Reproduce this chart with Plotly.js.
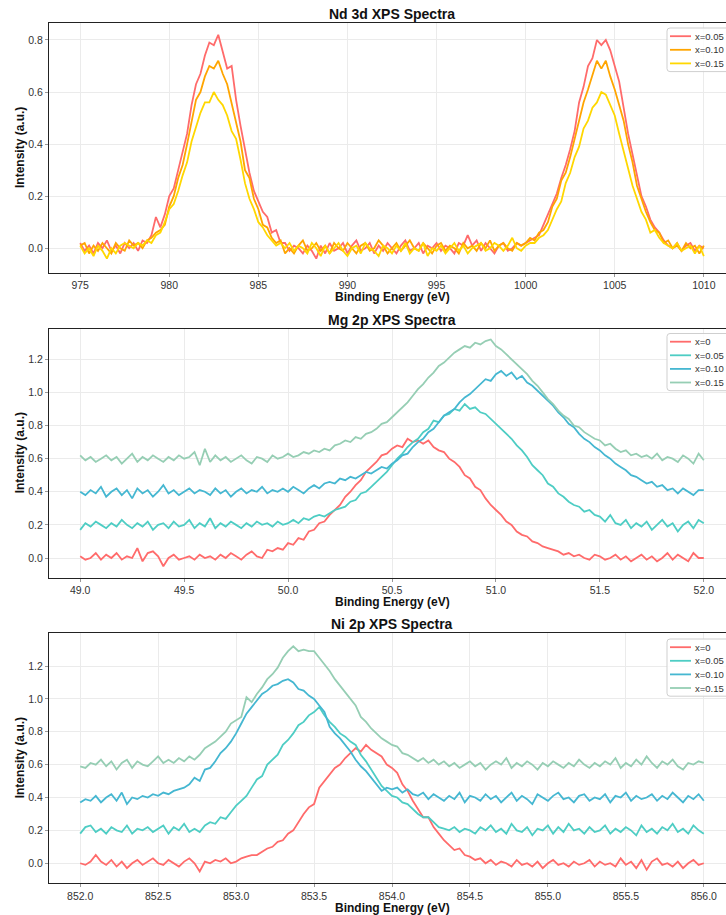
<!DOCTYPE html>
<html><head><meta charset="utf-8">
<script src="https://cdn.plot.ly/plotly-3.0.1.min.js"></script>
<style>html,body{margin:0;padding:0;overflow:hidden;background:#fff;width:726px;height:915px}#chart{width:745px;height:915px}</style>
</head><body><div id="chart"></div>
<script>
// ---------- Nd 3d (binding energy 975 .. 1010 eV) ----------
const ndRange = [975, 1010];
const ndLabels = ['x=0.05', 'x=0.10', 'x=0.15'];
const ndColors = ['#FF6B6B', '#FFA500', '#FFD700'];
const ndX005 = [
0.02,-0.01,0.01,-0.02,0.02,0.00,0.03,-0.01,0.01,-0.02,
0.02,0.00,0.02,-0.01,0.03,0.02,0.05,0.12,0.08,0.13,
0.20,0.23,0.30,0.37,0.44,0.55,0.63,0.67,0.74,0.79,
0.78,0.82,0.76,0.69,0.70,0.57,0.47,0.38,0.29,0.22,
0.18,0.14,0.12,0.06,0.07,0.02,0.02,-0.01,0.01,0.00,
-0.02,0.01,-0.01,-0.04,0.01,-0.02,0.02,-0.01,0.00,0.02,
-0.02,0.01,0.03,-0.01,0.00,0.02,-0.02,0.01,-0.01,0.02,
0.00,-0.02,0.01,0.03,-0.01,0.00,0.02,-0.02,0.01,0.00,
0.02,-0.01,0.01,0.00,-0.02,0.02,0.01,0.05,0.01,0.03,
-0.01,0.02,0.00,-0.02,0.01,0.02,-0.01,0.00,0.02,0.01,
0.02,0.03,0.04,0.05,0.09,0.13,0.17,0.21,0.27,0.32,
0.38,0.45,0.56,0.62,0.70,0.73,0.80,0.78,0.80,0.76,
0.70,0.64,0.54,0.44,0.36,0.28,0.20,0.16,0.11,0.08,
0.06,0.03,0.01,0.00,0.02,-0.01,0.01,0.02,-0.01,0.01,
0.00];
const ndX010 = [
0.01,0.02,-0.02,0.01,-0.01,0.02,0.00,-0.02,0.02,0.00,
-0.01,0.03,0.01,0.02,0.00,0.03,0.04,0.06,0.07,0.09,
0.16,0.20,0.27,0.32,0.40,0.48,0.57,0.60,0.66,0.70,
0.69,0.72,0.67,0.63,0.56,0.49,0.41,0.30,0.27,0.19,
0.15,0.09,0.08,0.04,0.02,0.03,-0.02,0.00,-0.02,0.01,
0.03,-0.01,0.00,0.02,-0.01,0.01,-0.02,0.02,0.00,-0.01,
0.02,0.00,-0.02,0.01,0.02,-0.01,0.00,0.03,0.01,-0.02,
0.00,0.02,-0.01,0.01,0.03,0.00,-0.01,0.02,0.00,-0.02,
0.01,0.02,-0.01,0.01,0.00,-0.02,0.02,0.00,0.01,-0.01,
0.02,0.00,0.03,-0.01,0.01,0.02,0.00,-0.01,0.02,0.01,
0.02,0.04,0.03,0.06,0.07,0.10,0.16,0.19,0.26,0.29,
0.35,0.42,0.48,0.56,0.61,0.67,0.72,0.69,0.72,0.66,
0.61,0.55,0.49,0.40,0.33,0.24,0.19,0.14,0.10,0.07,
0.06,0.02,0.03,0.00,0.01,-0.01,0.02,0.00,0.01,-0.02,
0.01];
const ndX015 = [
0.01,-0.02,0.00,-0.03,0.01,-0.01,-0.04,0.00,-0.02,0.01,
0.02,0.01,0.00,0.02,0.01,0.03,0.02,0.05,0.06,0.10,
0.15,0.17,0.22,0.28,0.33,0.41,0.47,0.52,0.56,0.56,
0.60,0.57,0.55,0.51,0.45,0.42,0.34,0.25,0.19,0.15,
0.10,0.08,0.05,0.03,0.01,0.02,0.00,0.02,-0.01,0.01,
0.00,-0.02,0.02,0.00,-0.03,0.01,-0.02,0.00,0.02,-0.01,
-0.03,0.00,0.01,-0.02,0.02,0.00,-0.01,-0.03,0.01,0.00,
-0.02,0.01,-0.01,0.02,-0.02,0.00,-0.01,0.02,-0.03,0.00,
-0.01,0.01,-0.02,0.00,0.02,-0.01,0.01,-0.02,0.00,0.01,
0.02,-0.01,0.00,0.02,0.01,-0.01,0.01,0.04,0.00,-0.01,
0.01,0.02,0.02,0.04,0.05,0.07,0.11,0.15,0.18,0.25,
0.29,0.35,0.39,0.46,0.49,0.54,0.56,0.60,0.59,0.55,
0.51,0.44,0.37,0.31,0.24,0.19,0.14,0.11,0.06,0.07,
0.04,0.02,0.01,0.00,0.02,-0.01,0.00,0.01,-0.02,0.01,
-0.03];

// ---------- Mg 2p (binding energy 49 .. 52 eV) ----------
const mgRange = [49, 52];
const dopLabels = ['x=0', 'x=0.05', 'x=0.10', 'x=0.15'];
const dopColors = ['#FF6B6B', '#4ECDC4', '#45B7D1', '#96CEB4'];
const mgX0 = [
0.01,-0.01,0.00,0.03,-0.01,0.02,0.00,0.03,-0.01,0.01,
0.00,0.06,-0.02,0.03,0.04,0.01,-0.05,0.00,0.02,-0.01,
0.00,0.01,-0.01,0.02,0.00,0.01,-0.01,0.02,0.00,0.03,
0.01,-0.01,0.02,0.04,0.01,0.00,0.05,0.04,0.06,0.05,
0.09,0.08,0.12,0.11,0.16,0.17,0.21,0.22,0.26,0.29,
0.32,0.37,0.40,0.44,0.47,0.52,0.55,0.58,0.62,0.63,
0.66,0.68,0.67,0.72,0.70,0.71,0.69,0.71,0.67,0.65,
0.64,0.60,0.58,0.55,0.50,0.48,0.43,0.41,0.36,0.32,
0.29,0.26,0.22,0.20,0.16,0.14,0.13,0.10,0.09,0.07,
0.06,0.05,0.04,0.02,0.03,0.01,0.02,0.00,-0.01,0.02,
0.01,-0.01,0.00,0.02,-0.01,0.01,-0.02,0.00,0.02,-0.01,
0.01,-0.02,0.00,0.03,-0.01,0.02,0.00,-0.02,0.03,0.00,
0.00];
const mgX005 = [
0.17,0.21,0.19,0.22,0.20,0.18,0.21,0.19,0.23,0.20,
0.18,0.21,0.19,0.22,0.17,0.20,0.21,0.18,0.22,0.19,
0.20,0.23,0.18,0.21,0.19,0.24,0.18,0.21,0.19,0.22,
0.20,0.18,0.21,0.19,0.22,0.20,0.21,0.19,0.22,0.20,
0.21,0.23,0.21,0.24,0.23,0.25,0.26,0.25,0.27,0.29,
0.30,0.31,0.34,0.35,0.39,0.40,0.43,0.46,0.49,0.52,
0.56,0.60,0.63,0.67,0.70,0.72,0.76,0.78,0.83,0.82,
0.86,0.87,0.90,0.89,0.93,0.90,0.91,0.88,0.87,0.84,
0.81,0.78,0.75,0.72,0.68,0.65,0.61,0.56,0.53,0.50,
0.45,0.43,0.39,0.37,0.34,0.32,0.31,0.28,0.29,0.26,
0.25,0.22,0.26,0.21,0.20,0.23,0.18,0.21,0.19,0.22,
0.17,0.20,0.23,0.19,0.21,0.16,0.20,0.22,0.18,0.23,
0.21];
const mgX010 = [
0.40,0.38,0.41,0.39,0.43,0.37,0.40,0.42,0.38,0.41,
0.36,0.42,0.39,0.41,0.37,0.40,0.44,0.39,0.41,0.38,
0.40,0.42,0.39,0.41,0.40,0.38,0.42,0.39,0.41,0.37,
0.40,0.42,0.39,0.41,0.40,0.43,0.39,0.41,0.40,0.42,
0.40,0.43,0.41,0.39,0.42,0.44,0.42,0.45,0.46,0.45,
0.48,0.47,0.49,0.48,0.50,0.52,0.51,0.53,0.55,0.54,
0.57,0.59,0.62,0.63,0.67,0.70,0.72,0.76,0.78,0.82,
0.86,0.88,0.90,0.94,0.97,0.99,1.02,1.05,1.08,1.07,
1.11,1.13,1.10,1.12,1.08,1.10,1.06,1.04,1.01,0.98,
0.95,0.92,0.88,0.85,0.81,0.79,0.75,0.72,0.70,0.67,
0.65,0.62,0.60,0.57,0.55,0.53,0.50,0.49,0.47,0.45,
0.46,0.43,0.44,0.41,0.42,0.39,0.42,0.40,0.38,0.41,
0.41];
const mgX015 = [
0.62,0.59,0.61,0.58,0.60,0.62,0.59,0.61,0.57,0.60,
0.63,0.58,0.61,0.59,0.62,0.60,0.58,0.61,0.59,0.62,
0.60,0.61,0.64,0.56,0.66,0.58,0.62,0.59,0.61,0.58,
0.60,0.62,0.59,0.57,0.61,0.60,0.58,0.62,0.60,0.61,
0.63,0.61,0.62,0.64,0.63,0.65,0.64,0.66,0.65,0.68,
0.69,0.71,0.70,0.73,0.72,0.75,0.76,0.78,0.81,0.82,
0.85,0.88,0.91,0.94,0.98,1.02,1.05,1.09,1.12,1.16,
1.18,1.21,1.24,1.26,1.28,1.27,1.30,1.29,1.31,1.32,
1.28,1.26,1.23,1.20,1.17,1.14,1.11,1.07,1.04,1.00,
0.96,0.93,0.89,0.86,0.84,0.80,0.79,0.76,0.74,0.72,
0.71,0.68,0.69,0.66,0.64,0.65,0.62,0.63,0.61,0.62,
0.60,0.63,0.59,0.61,0.60,0.58,0.62,0.60,0.57,0.63,
0.59];

// ---------- Ni 2p (binding energy 852 .. 856 eV) ----------
const niRange = [852, 856];
const niX0 = [
0.00,-0.01,0.01,0.05,0.01,-0.01,0.02,-0.02,0.01,-0.03,
0.00,0.02,-0.01,0.01,0.03,0.00,-0.01,0.02,0.00,-0.02,
0.01,0.03,0.00,-0.05,0.01,0.00,0.02,0.01,0.03,0.00,
0.01,0.03,0.04,0.05,0.05,0.07,0.09,0.10,0.13,0.14,
0.18,0.20,0.25,0.30,0.34,0.36,0.46,0.50,0.54,0.58,
0.60,0.64,0.67,0.70,0.68,0.72,0.69,0.67,0.65,0.60,
0.58,0.55,0.48,0.44,0.38,0.33,0.28,0.28,0.22,0.18,
0.14,0.11,0.08,0.09,0.05,0.04,0.02,0.03,0.00,0.02,
-0.01,0.01,0.00,-0.02,0.02,-0.01,0.00,-0.02,0.01,-0.03,
0.00,0.02,-0.01,0.00,-0.02,0.01,-0.01,0.00,0.02,-0.02,
0.01,-0.01,0.00,-0.02,0.03,-0.01,0.01,-0.03,0.02,-0.04,
0.01,0.03,-0.01,0.00,-0.02,0.01,-0.03,0.00,0.02,-0.01,
0.00];
const niX005 = [
0.18,0.22,0.23,0.19,0.21,0.18,0.22,0.20,0.19,0.23,
0.18,0.21,0.20,0.22,0.19,0.21,0.23,0.18,0.22,0.20,
0.24,0.19,0.21,0.19,0.23,0.25,0.24,0.28,0.27,0.31,
0.35,0.38,0.41,0.46,0.51,0.53,0.60,0.63,0.66,0.72,
0.75,0.79,0.84,0.86,0.90,0.92,0.95,0.90,0.86,0.83,
0.79,0.77,0.74,0.72,0.66,0.62,0.57,0.52,0.47,0.44,
0.41,0.40,0.37,0.36,0.33,0.30,0.28,0.28,0.25,0.22,
0.21,0.20,0.22,0.19,0.21,0.20,0.18,0.22,0.20,0.23,
0.19,0.21,0.18,0.24,0.20,0.19,0.22,0.17,0.21,0.20,
0.23,0.18,0.22,0.19,0.24,0.20,0.21,0.18,0.22,0.19,
0.20,0.23,0.18,0.21,0.19,0.22,0.20,0.17,0.23,0.19,
0.21,0.18,0.22,0.20,0.24,0.19,0.21,0.18,0.23,0.20,
0.18];
const niX010 = [
0.37,0.39,0.38,0.41,0.37,0.40,0.42,0.38,0.43,0.36,
0.40,0.39,0.41,0.40,0.42,0.41,0.43,0.42,0.44,0.45,
0.46,0.48,0.52,0.50,0.57,0.58,0.62,0.67,0.70,0.74,
0.79,0.85,0.91,0.95,0.99,1.03,1.05,1.08,1.09,1.11,
1.12,1.10,1.06,1.05,1.02,1.00,0.96,0.92,0.83,0.79,
0.76,0.72,0.68,0.63,0.59,0.56,0.52,0.48,0.44,0.46,
0.45,0.46,0.43,0.45,0.42,0.41,0.43,0.39,0.42,0.40,
0.38,0.41,0.39,0.43,0.37,0.41,0.40,0.38,0.42,0.39,
0.41,0.37,0.40,0.43,0.38,0.41,0.39,0.36,0.42,0.40,
0.38,0.41,0.43,0.39,0.40,0.37,0.41,0.42,0.38,0.40,
0.39,0.42,0.37,0.41,0.40,0.43,0.38,0.41,0.39,0.40,
0.42,0.38,0.41,0.39,0.43,0.40,0.37,0.41,0.39,0.42,
0.38];
const niX015 = [
0.59,0.58,0.61,0.60,0.63,0.59,0.62,0.57,0.61,0.63,
0.58,0.62,0.60,0.59,0.62,0.65,0.61,0.63,0.61,0.64,
0.62,0.65,0.63,0.66,0.70,0.72,0.74,0.77,0.80,0.85,
0.87,0.89,1.01,0.98,1.03,1.07,1.12,1.15,1.19,1.25,
1.29,1.32,1.29,1.30,1.29,1.29,1.25,1.21,1.17,1.12,
1.08,1.04,1.00,0.96,0.89,0.86,0.82,0.79,0.76,0.74,
0.72,0.71,0.67,0.66,0.64,0.62,0.64,0.61,0.63,0.60,
0.62,0.59,0.61,0.58,0.60,0.62,0.59,0.61,0.57,0.60,
0.62,0.60,0.64,0.58,0.61,0.59,0.62,0.60,0.57,0.61,
0.59,0.62,0.60,0.58,0.61,0.59,0.63,0.60,0.58,0.61,
0.59,0.62,0.60,0.64,0.58,0.61,0.59,0.63,0.60,0.65,
0.61,0.58,0.62,0.60,0.63,0.59,0.57,0.61,0.60,0.62,
0.61];

// evenly spaced energy grid for a series (like numpy.linspace)
function energyGrid(range, n) {
  const out = [];
  for (let i = 0; i < n; i++) out.push(range[0] + (range[1] - range[0]) * i / (n - 1));
  return out;
}

const FONT = 'Liberation Sans, Arial, Helvetica, sans-serif';
const LW = 1.8;
const traces = [];
function addSeries(list, labels, colors, range, xa, ya) {
  list.forEach((vals, k) => {
    traces.push({
      type: 'scatter', mode: 'lines',
      x: energyGrid(range, vals.length), y: vals,
      name: labels[k], line: {color: colors[k], width: LW},
      xaxis: xa, yaxis: ya, showlegend: false
    });
  });
}
addSeries([ndX005, ndX010, ndX015], ndLabels, ndColors, ndRange, 'x', 'y');
addSeries([mgX0, mgX005, mgX010, mgX015], dopLabels, dopColors, mgRange, 'x2', 'y2');
addSeries([niX0, niX005, niX010, niX015], dopLabels, dopColors, niRange, 'x3', 'y3');

const W = 745, H = 915, ML = 49, MR = 10;
const PW = W - ML - MR;
const px = v => (v - ML) / PW;
const py = v => 1 - v / H;

const axBase = {
  showline: true, linecolor: '#222', linewidth: 1.3, mirror: true,
  showgrid: true, gridcolor: '#ebebeb', gridwidth: 1, zeroline: false,
  ticks: 'outside', ticklen: 3, tickcolor: '#999', tickwidth: 1,
  tickfont: {family: FONT, size: 10.5, color: '#333'}
};

const layout = {
  width: W, height: H,
  margin: {l: ML, r: MR, t: 0, b: 0},
  paper_bgcolor: '#fff', plot_bgcolor: '#fff',
  font: {family: FONT},
  showlegend: false,
  xaxis: Object.assign({}, axBase, {domain: [0, 1], anchor: 'y', range: [973.25, 1011.75], tick0: 975, dtick: 5}),
  yaxis: Object.assign({}, axBase, {domain: [py(272.7), py(23.3)], anchor: 'x', range: [-0.094, 0.864], tick0: 0, dtick: 0.2, tickformat: '.1f'}),
  xaxis2: Object.assign({}, axBase, {domain: [0, 1], anchor: 'y2', range: [48.85, 52.15], tick0: 49, dtick: 0.5, tickformat: '.1f'}),
  yaxis2: Object.assign({}, axBase, {domain: [py(577.7), py(329)], anchor: 'x2', range: [-0.119, 1.383], tick0: 0, dtick: 0.2, tickformat: '.1f'}),
  xaxis3: Object.assign({}, axBase, {domain: [0, 1], anchor: 'y3', range: [851.8, 856.2], tick0: 852, dtick: 0.5, tickformat: '.1f'}),
  yaxis3: Object.assign({}, axBase, {domain: [py(883.3), py(633.3)], anchor: 'x3', range: [-0.122, 1.399], tick0: 0, dtick: 0.2, tickformat: '.1f'}),
  annotations: [],
  shapes: []
};

const titleFont = {family: FONT, size: 14, color: '#111'};
const labFont = {family: FONT, size: 12, color: '#111'};
const legFont = {family: FONT, size: 9.5, color: '#333'};
const panels = [
  {title: 'Nd 3d XPS Spectra', top: 23.3, bottom: 272.7, labels: ndLabels, colors: ndColors, legTop: 28},
  {title: 'Mg 2p XPS Spectra', top: 329, bottom: 577.7, labels: dopLabels, colors: dopColors, legTop: 333.5},
  {title: 'Ni 2p XPS Spectra', top: 633.3, bottom: 883.3, labels: dopLabels, colors: dopColors, legTop: 639}
];

// legend box with rounded left corners, in pixel terms converted to paper
function legendBox(left, top, right, bottom, r) {
  const X = v => px(v), Y = v => py(v);
  return 'M' + X(left + r) + ',' + Y(top) + ' L' + X(right) + ',' + Y(top) +
    ' L' + X(right) + ',' + Y(bottom) + ' L' + X(left + r) + ',' + Y(bottom) +
    ' Q' + X(left) + ',' + Y(bottom) + ' ' + X(left) + ',' + Y(bottom - r) +
    ' L' + X(left) + ',' + Y(top + r) +
    ' Q' + X(left) + ',' + Y(top) + ' ' + X(left + r) + ',' + Y(top) + ' Z';
}

panels.forEach(p => {
  layout.annotations.push({text: '<b>' + p.title + '</b>', xref: 'paper', yref: 'paper', x: 0.5, y: py(p.top - 9.5), xanchor: 'center', yanchor: 'middle', showarrow: false, font: titleFont});
  layout.annotations.push({text: '<b>Binding Energy (eV)</b>', xref: 'paper', yref: 'paper', x: 0.5, y: py(p.bottom + 24.5), xanchor: 'center', yanchor: 'middle', showarrow: false, font: labFont});
  layout.annotations.push({text: '<b>Intensity (a.u.)</b>', xref: 'paper', yref: 'paper', x: px(20), y: py((p.top + p.bottom) / 2), xanchor: 'center', yanchor: 'middle', textangle: -90, showarrow: false, font: labFont});
  // legend
  const rowGap = 13.6, first = p.legTop + 8.2;
  const bottom = first + rowGap * (p.labels.length - 1) + 8.2;
  layout.shapes.push({type: 'path', xref: 'paper', yref: 'paper', path: legendBox(667, p.legTop, 744, bottom, 3),
    fillcolor: 'rgba(255,255,255,0.85)', line: {color: '#cfcfcf', width: 1}, layer: 'above'});
  p.labels.forEach((lab, k) => {
    const yy = first + rowGap * k;
    layout.shapes.push({type: 'line', xref: 'paper', yref: 'paper', x0: px(670), x1: px(691), y0: py(yy), y1: py(yy),
      line: {color: p.colors[k], width: LW}, layer: 'above'});
    layout.annotations.push({text: lab, xref: 'paper', yref: 'paper', x: px(694), y: py(yy), xanchor: 'left', yanchor: 'middle',
      showarrow: false, borderpad: 0, font: legFont});
  });
});

Plotly.newPlot('chart', traces, layout, {displayModeBar: false, responsive: false});
</script>
</body></html>
